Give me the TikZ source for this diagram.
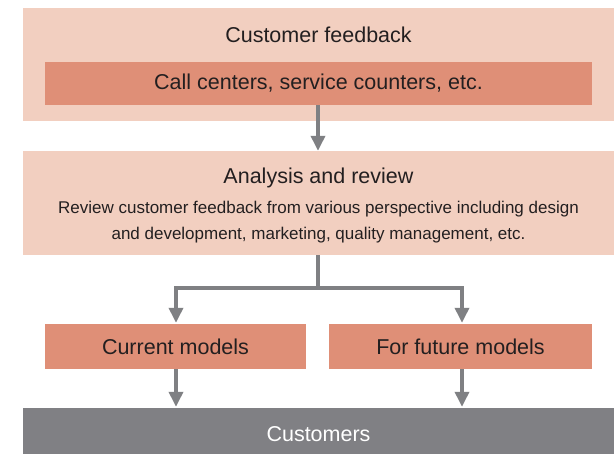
\documentclass[tikz,border=0pt]{standalone}
\usepackage{fontspec}
\setmainfont{Liberation Sans}
\usetikzlibrary{arrows.meta}
\definecolor{lightbox}{HTML}{F2CFC0}
\definecolor{midbox}{HTML}{DF8F77}
\definecolor{darkbox}{HTML}{808084}
\definecolor{arrowgray}{HTML}{7F8083}
\definecolor{txt}{HTML}{231F20}
\tikzset{
  x=1pt,y=1pt,
  panel/.style={fill=lightbox, draw=none, inner sep=0pt, minimum width=591pt},
  subbox/.style={fill=midbox, draw=none, inner sep=0pt, text=txt, font=\fontsize{21.5}{24}\selectfont},
  titletext/.style={inner sep=0pt, text=txt, font=\fontsize{21.5}{24}\selectfont},
  bodytext/.style={inner sep=0pt, text=txt, align=center, font=\fontsize{17}{26.5}\selectfont},
  flow/.style={draw=arrowgray, line width=3.5pt, -{Triangle[width=14pt,length=15pt]}},
  link/.style={draw=arrowgray, line width=3.5pt}
}
\begin{document}
\begin{tikzpicture}
\useasboundingbox (0,0) rectangle (614,454);
\fill[white] (0,0) rectangle (614,454);
% top panel
\node[panel, minimum height=113pt] (fb) at (318.5,389.5) {};
\node[titletext] (fbt) at (318.5,419) {Customer feedback};
\node[subbox, minimum width=547pt, minimum height=43pt] (calls) at (318.5,370.5) {Call centers, service counters, etc.};
% analysis panel
\node[panel, minimum height=104pt] (ar) at (318.5,251) {};
\node[titletext] (art) at (318.5,276) {Analysis and review};
\node[bodytext] (arb) at (318.5,232) {Review customer feedback from various perspective including design\\and development, marketing, quality management, etc.};
% model boxes
\node[subbox, minimum width=261pt, minimum height=45pt] (cur) at (175.5,107.5) {Current models};
\node[subbox, minimum width=263pt, minimum height=45pt] (fut) at (460.5,107.5) {For future models};
% customers
\node[fill=darkbox, inner sep=0pt, minimum width=591pt, minimum height=46pt] (cust) at (318.5,23) {};
\node[inner sep=0pt, text=white, font=\fontsize{21.5}{24}\selectfont] (custt) at (318.5,19.5) {Customers};
% connectors
\coordinate (split) at (318,166);
\coordinate (splitl) at (176,166);
\coordinate (splitr) at (462,166);
\draw[flow] (calls.south -| split) -- (ar.north -| split);
\draw[link] (ar.south -| split) -- (split);
\draw[flow] (split) -| ([yshift=1pt]cur.north -| splitl);
\draw[flow] (split) -| ([yshift=1pt]fut.north -| splitr);
\draw[flow] (cur.south -| splitl) -- ([yshift=1pt]cust.north -| splitl);
\draw[flow] (fut.south -| splitr) -- ([yshift=1pt]cust.north -| splitr);
\end{tikzpicture}
\end{document}
